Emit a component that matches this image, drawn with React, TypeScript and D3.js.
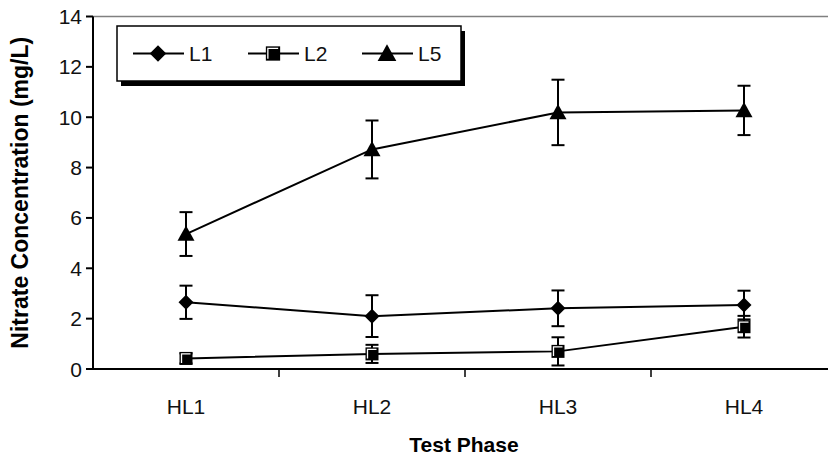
import React from "react";
import * as d3 from "d3";

const categories = ["HL1", "HL2", "HL3", "HL4"];
const yTicks = [0, 2, 4, 6, 8, 10, 12, 14];
const seriesNames = ["L1", "L2", "L5"];
const l1Values = [2.65, 2.1, 2.41, 2.54];
const l1Errors = [0.66, 0.83, 0.71, 0.57];
const l2Values = [0.42, 0.6, 0.7, 1.68];
const l2Errors = [0.2, 0.36, 0.56, 0.43];
const l5Values = [5.36, 8.72, 10.19, 10.27];
const l5Errors = [0.87, 1.15, 1.3, 0.98];

const W = 828;
const H = 464;
const left = 93;
const top = 16.5;
const bottom = 369;
const band = 186;
const right = left + band * 4;

const x = d3.scaleBand<string>().domain(categories).range([left, right]);
const y = d3.scaleLinear().domain([0, 14]).range([bottom, top]);

const FONT = "'Liberation Sans', Arial, sans-serif";

function Marker({ kind, cx, cy, k = 1 }: { kind: string; cx: number; cy: number; k?: number }) {
  if (kind === "L1") {
    const s = 7.5 * k;
    return (
      <path
        d={`M${cx},${cy - s}L${cx + s},${cy}L${cx},${cy + s}L${cx - s},${cy}Z`}
        fill="#000"
      />
    );
  }
  if (kind === "L2") {
    const s = 6.5 * k;
    return (
      <g>
        <rect x={cx - s} y={cy - s} width={2 * s} height={2 * s} fill="#000" />
        <path
          d={`M${cx - s + 2},${cy + s - 2}V${cy - s + 2}H${cx + s - 2}`}
          fill="none"
          stroke="#fff"
          strokeWidth={1.3}
        />
      </g>
    );
  }
  const s = 8.5 * k;
  return (
    <path
      d={`M${cx},${cy - s}L${cx + s},${cy + s * 0.8}L${cx - s},${cy + s * 0.8}Z`}
      fill="#000"
    />
  );
}

export default function App() {
  const series = [
    { name: "L1", values: l1Values, errors: l1Errors },
    { name: "L2", values: l2Values, errors: l2Errors },
    { name: "L5", values: l5Values, errors: l5Errors },
  ];
  const cx = (c: string) => (x(c) as number) + x.bandwidth() / 2;
  const line = d3
    .line<number>()
    .x((_, i) => cx(categories[i]))
    .y((v) => y(v));

  const legX = 117;
  const legY = 26;
  const legW = 344;
  const legH = 55;
  const itemX = [133, 248, 362];

  return (
    <svg width={W} height={H} style={{ display: "block", position: "absolute", left: 0, top: 0 }} fontFamily={FONT}>
      <rect x={0} y={0} width={W} height={H} fill="#fff" />
      <line x1={left} x2={right} y1={top} y2={top} stroke="#808080" strokeWidth={1.5} />
      <line x1={left} x2={left} y1={top} y2={bottom} stroke="#000" strokeWidth={2} />
      {yTicks.map((t) => (
        <g key={t}>
          <line x1={left - 7} x2={left} y1={y(t)} y2={y(t)} stroke="#000" strokeWidth={2} />
          <text x={left - 11} y={y(t)} dy="0.36em" textAnchor="end" fontSize={21} fill="#111">
            {t}
          </text>
        </g>
      ))}
      <line x1={left} x2={right} y1={bottom} y2={bottom} stroke="#000" strokeWidth={2} />
      {categories.slice(1).map((c) => (
        <line key={c} x1={x(c)} x2={x(c)} y1={bottom} y2={bottom + 8} stroke="#000" strokeWidth={1.5} />
      ))}
      {categories.map((c) => (
        <text key={c} x={cx(c)} y={406} dy="0.36em" textAnchor="middle" fontSize={21} fill="#111">
          {c}
        </text>
      ))}
      <text x={464} y={444} dy="0.36em" textAnchor="middle" fontSize={21} fontWeight="bold">
        Test Phase
      </text>
      <text
        transform={`translate(20,${(top + bottom) / 2}) rotate(-90)`}
        textAnchor="middle"
        dy="0.36em"
        fontSize={23}
        fontWeight="bold"
      >
        Nitrate Concentration (mg/L)
      </text>

      {series.map((s) => (
        <g key={s.name}>
          <path d={line(s.values) || ""} fill="none" stroke="#000" strokeWidth={2} />
          {s.values.map((v, i) => {
            const px = cx(categories[i]);
            const e = s.errors[i];
            return (
              <g key={i} stroke="#000" strokeWidth={2}>
                <line x1={px} x2={px} y1={y(v + e)} y2={y(v - e)} />
                <line x1={px - 6.5} x2={px + 6.5} y1={y(v + e)} y2={y(v + e)} />
                <line x1={px - 6.5} x2={px + 6.5} y1={y(v - e)} y2={y(v - e)} />
              </g>
            );
          })}
          {s.values.map((v, i) => (
            <Marker key={"m" + i} kind={s.name} cx={cx(categories[i])} cy={y(v)} />
          ))}
        </g>
      ))}

      <rect x={legX + 4} y={legY + 5} width={legW} height={legH} fill="#000" />
      <rect x={legX} y={legY} width={legW} height={legH} fill="#fff" stroke="#000" strokeWidth={1.5} />
      {seriesNames.map((n, i) => {
        const lx = itemX[i];
        const ly = legY + legH / 2;
        return (
          <g key={n}>
            <line x1={lx} x2={lx + 51} y1={ly} y2={ly} stroke="#000" strokeWidth={2} />
            <Marker kind={n} cx={lx + 25} cy={ly} k={1.1} />
            <text x={lx + 56} y={ly} dy="0.36em" fontSize={21} fill="#111">
              {n}
            </text>
          </g>
        );
      })}
    </svg>
  );
}
